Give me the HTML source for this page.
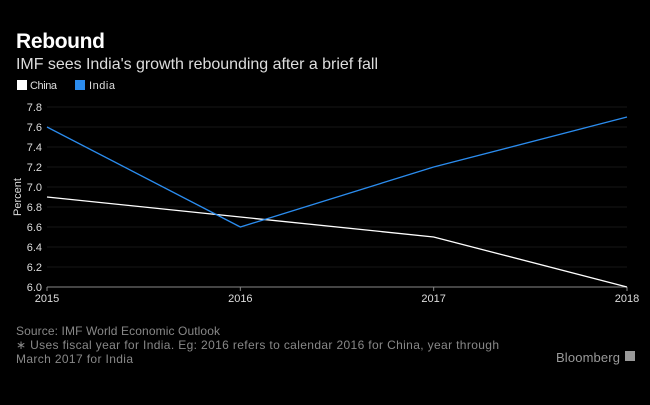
<!DOCTYPE html>
<html><head><meta charset="utf-8"><style>
body{margin:0;background:#000;width:650px;height:400px;overflow:hidden;font-family:"Liberation Sans",sans-serif}
svg text{font-family:"Liberation Sans",sans-serif}
</style></head><body>
<svg width="650" height="400">
<rect width="650" height="400" fill="#000"/>
<text x="16" y="48" fill="#fff" font-size="21" font-weight="bold" textLength="89">Rebound</text>
<text x="16" y="69" fill="#ddd" font-size="16" textLength="362">IMF sees India's growth rebounding after a brief fall</text>
<g>
<rect x="17" y="80" width="10" height="10" fill="#fff"/>
<text x="30" y="89" fill="#ddd" font-size="11" textLength="27">China</text>
<rect x="75" y="80" width="10" height="10" fill="#2b8cee"/>
<text x="89" y="89" fill="#ddd" font-size="11" textLength="26">India</text>
</g>
<g id="plot"></g>
<text transform="translate(21,197) rotate(-90)" text-anchor="middle" fill="#ddd" font-size="11">Percent</text>
<text x="16" y="335" fill="#888" font-size="12" textLength="204">Source: IMF World Economic Outlook</text>
<text x="16" y="349" fill="#888" font-size="12" textLength="483">∗ Uses fiscal year for India. Eg: 2016 refers to calendar 2016 for China, year through</text>
<text x="16" y="363" fill="#888" font-size="12" textLength="117">March 2017 for India</text>
<text x="620" y="362" text-anchor="end" fill="#999" font-size="13" textLength="64">Bloomberg</text>
<rect x="625" y="351" width="10" height="10" fill="#999"/>
</svg>
<script>
const years=["2015","2016","2017","2018"];
const china=[6.9,6.7,6.5,6.0];
const india=[7.6,6.6,7.2,7.7];
const yTicks=[6.0,6.2,6.4,6.6,6.8,7.0,7.2,7.4,7.6,7.8];
const NS="http://www.w3.org/2000/svg";
const g=document.getElementById('plot');
const x0=47,x1=627,yMin=6.0,yMax=7.8,yb=287,yt=107;
const xs=i=>x0+(x1-x0)*i/(years.length-1);
const ys=v=>yb-(v-yMin)/(yMax-yMin)*(yb-yt);
function mk(t,a){const e=document.createElementNS(NS,t);for(const k in a)e.setAttribute(k,a[k]);g.appendChild(e);return e;}
yTicks.forEach(v=>{
 if(v>yMin){const l=mk('line',{x1:x0,x2:x1,y1:ys(v),y2:ys(v),stroke:'#161616','stroke-width':1});
 
 }
 const t=mk('text',{x:42,y:ys(v)+4,'text-anchor':'end',fill:'#ddd','font-size':11});
 t.textContent=v.toFixed(1);
 
 
});
const ax=mk('line',{x1:x0,x2:x1,y1:yb,y2:yb,stroke:'#888','stroke-width':1});


years.forEach((y,i)=>{
 const tk=mk('line',{x1:xs(i),x2:xs(i),y1:yb,y2:yb+4,stroke:'#888'});
 
 
 const t=mk('text',{x:xs(i),y:yb+15,'text-anchor':'middle',fill:'#ddd','font-size':11});
 t.textContent=y;
 
 
});
const pc=mk('polyline',{points:china.map((v,i)=>xs(i)+','+ys(v)).join(' '),fill:'none',stroke:'#fff','stroke-width':1.3});


const pi=mk('polyline',{points:india.map((v,i)=>xs(i)+','+ys(v)).join(' '),fill:'none',stroke:'#2b8cee','stroke-width':1.3});


</script>
</body></html>
